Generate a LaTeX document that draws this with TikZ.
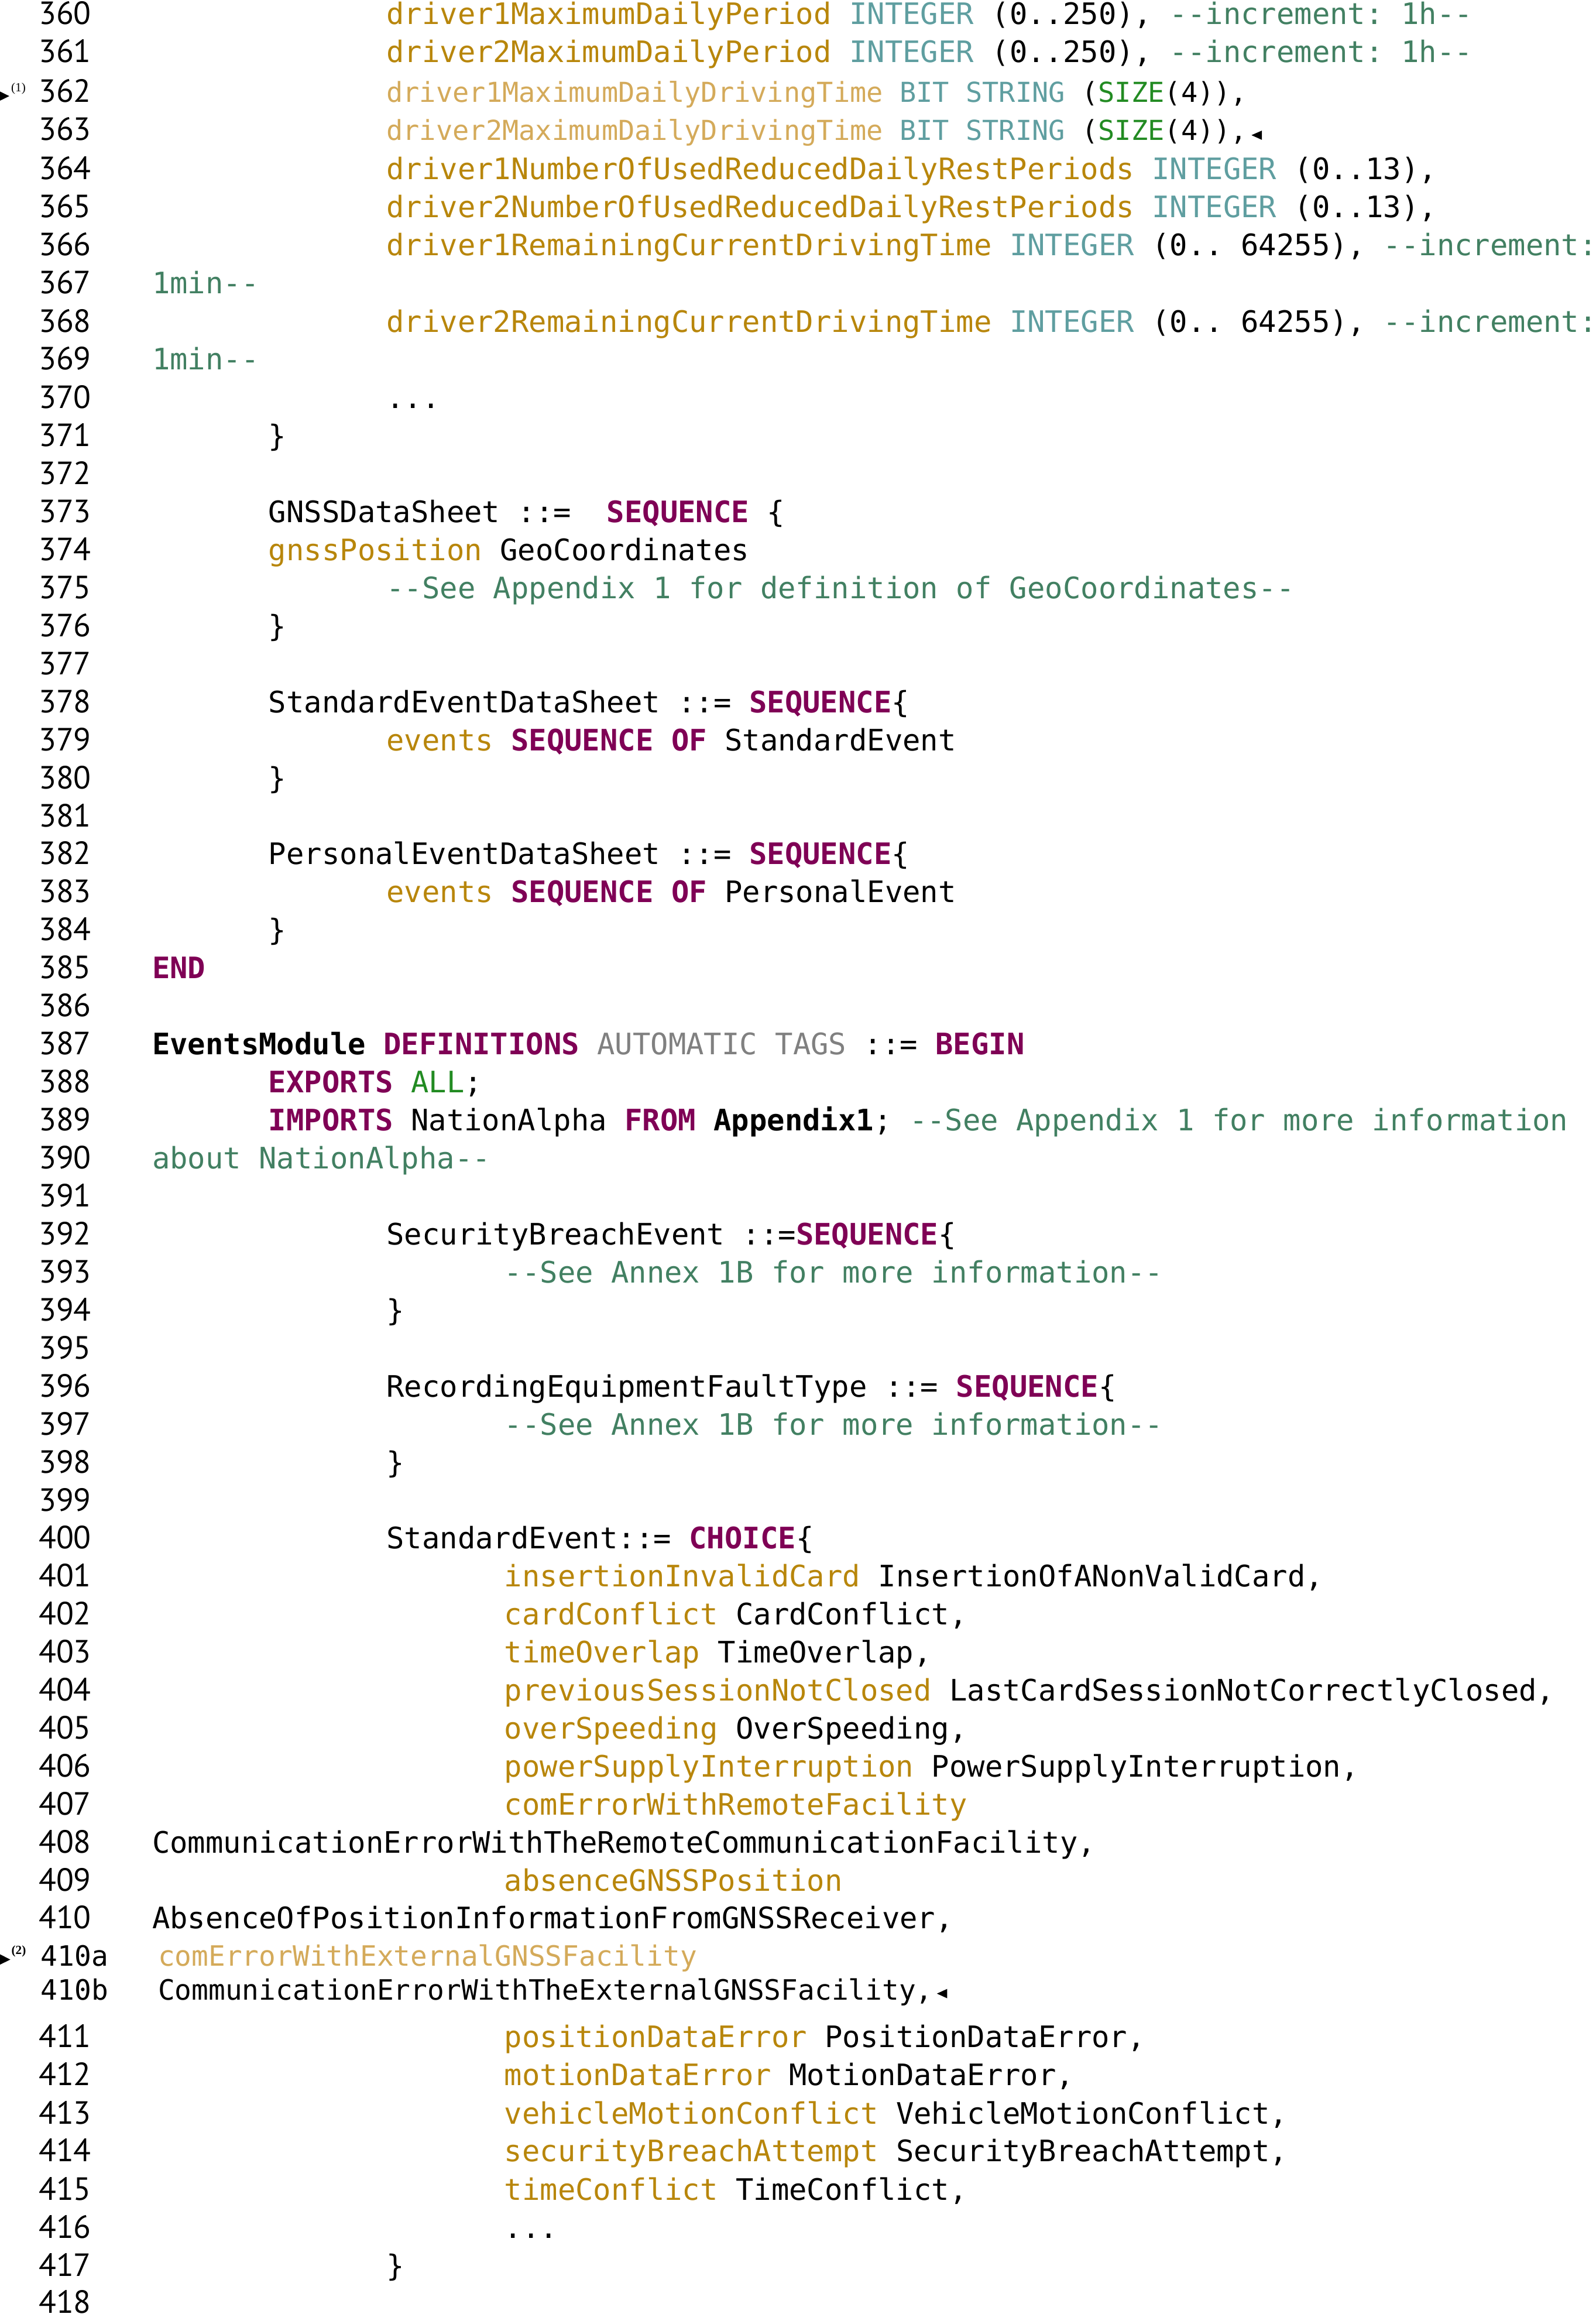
\documentclass[tikz,border=0pt]{standalone}
\usepackage{fontspec}
\setmonofont{DejaVu Sans Mono}
\newfontfamily\numfont{PT Sans}
\newfontfamily\notefont{Liberation Serif}
\frenchspacing

% colours of the listing
\definecolor{fieldgold}{RGB}{184,134,11}
\definecolor{fieldlight}{RGB}{212,170,90}
\definecolor{typeteal}{RGB}{95,158,160}
\definecolor{cmtgreen}{RGB}{66,128,98}
\definecolor{kwpurple}{RGB}{127,0,85}
\definecolor{sizegreen}{RGB}{34,139,34}
\definecolor{tagsgray}{RGB}{128,128,128}

% highlighting macros
\newcommand{\kw}[1]{\textcolor{kwpurple}{\bfseries #1}}
\newcommand{\fld}[1]{\textcolor{fieldgold}{#1}}
\newcommand{\fldl}[1]{\textcolor{fieldlight}{#1}}
\newcommand{\typ}[1]{\textcolor{typeteal}{#1}}
\newcommand{\cmt}[1]{\textcolor{cmtgreen}{#1}}
\newcommand{\szg}[1]{\textcolor{sizegreen}{#1}}

\begin{document}
\begin{tikzpicture}[
    % GLOBAL CFG
    x=0.025cm, y=-0.025cm,
    % Styles
    code/.style={% One line of the listing
        anchor=base west,
        inner sep=0pt,
        font=\ttfamily\fontsize{14.27pt}{17pt}\selectfont,
        },
    codeins/.style={% Changed lines, set a bit smaller
        code,
        font=\ttfamily\fontsize{13.27pt}{16pt}\selectfont,
        },
    codenew/.style={% Added lines 410a and 410b
        code,
        font=\ttfamily\fontsize{13.5pt}{16pt}\selectfont,
        },
    lnum/.style={% Line numbers in the margin
        anchor=base west,
        inner sep=0pt,
        font=\numfont\fontsize{15.5pt}{18pt}\selectfont,
        },
    note/.style={% Footnote marks next to the arrows
        anchor=base west,
        inner sep=0pt,
        font=\notefont\fontsize{6pt}{7pt}\selectfont,
        },
    ]

\useasboundingbox (0,0) rectangle (1083,1570);

    % Line numbers
    \node[lnum] (n360) at (26,16.5) {360};
    \node[lnum] (n361) at (26,42.4) {361};
    \node[lnum] (n362) at (26,69.5) {362};
    \node[lnum] (n363) at (26,95.3) {363};
    \node[lnum] (n364) at (26,121.8) {364};
    \node[lnum] (n365) at (26,147.6) {365};
    \node[lnum] (n366) at (26,173.5) {366};
    \node[lnum] (n367) at (26,199.3) {367};
    \node[lnum] (n368) at (26,225.2) {368};
    \node[lnum] (n369) at (26,251.0) {369};
    \node[lnum] (n370) at (26,276.9) {370};
    \node[lnum] (n371) at (26,302.7) {371};
    \node[lnum] (n372) at (26,328.6) {372};
    \node[lnum] (n373) at (26,354.6) {373};
    \node[lnum] (n374) at (26,380.4) {374};
    \node[lnum] (n375) at (26,406.2) {375};
    \node[lnum] (n376) at (26,431.9) {376};
    \node[lnum] (n377) at (26,457.7) {377};
    \node[lnum] (n378) at (26,483.5) {378};
    \node[lnum] (n379) at (26,509.3) {379};
    \node[lnum] (n380) at (26,535.1) {380};
    \node[lnum] (n381) at (26,560.8) {381};
    \node[lnum] (n382) at (26,586.6) {382};
    \node[lnum] (n383) at (26,612.4) {383};
    \node[lnum] (n384) at (26,638.2) {384};
    \node[lnum] (n385) at (26,664.0) {385};
    \node[lnum] (n386) at (26,689.7) {386};
    \node[lnum] (n387) at (26,715.5) {387};
    \node[lnum] (n388) at (26,741.3) {388};
    \node[lnum] (n389) at (26,767.1) {389};
    \node[lnum] (n390) at (26,793.0) {390};
    \node[lnum] (n391) at (26,818.8) {391};
    \node[lnum] (n392) at (26,844.6) {392};
    \node[lnum] (n393) at (26,870.4) {393};
    \node[lnum] (n394) at (26,896.2) {394};
    \node[lnum] (n395) at (26,921.9) {395};
    \node[lnum] (n396) at (26,947.7) {396};
    \node[lnum] (n397) at (26,973.5) {397};
    \node[lnum] (n398) at (26,999.3) {398};
    \node[lnum] (n399) at (26,1025.1) {399};
    \node[lnum] (n400) at (26,1050.8) {400};
    \node[lnum] (n401) at (26,1076.6) {401};
    \node[lnum] (n402) at (26,1102.4) {402};
    \node[lnum] (n403) at (26,1128.2) {403};
    \node[lnum] (n404) at (26,1154.0) {404};
    \node[lnum] (n405) at (26,1179.7) {405};
    \node[lnum] (n406) at (26,1205.5) {406};
    \node[lnum] (n407) at (26,1231.3) {407};
    \node[lnum] (n408) at (26,1257.1) {408};
    \node[lnum] (n409) at (26,1282.9) {409};
    \node[lnum] (n410) at (26,1308.6) {410};
    \node[codenew] (n410a) at (27.5,1333.7) {410a};
    \node[codenew] (n410b) at (27.5,1357.1) {410b};
    \node[lnum] (n411) at (26,1388.9) {411};
    \node[lnum] (n412) at (26,1414.9) {412};
    \node[lnum] (n413) at (26,1441.1) {413};
    \node[lnum] (n414) at (26,1466.6) {414};
    \node[lnum] (n415) at (26,1492.9) {415};
    \node[lnum] (n416) at (26,1518.5) {416};
    \node[lnum] (n417) at (26,1544.5) {417};
    \node[lnum] (n418) at (26,1569.2) {418};

    % Code lines
    \node[code] (l360) at (262,16.5) {\fld{driver1MaximumDailyPeriod} \typ{INTEGER} (0..250), \cmt{--increment: 1h--}};
    \node[code] (l361) at (262,42.4) {\fld{driver2MaximumDailyPeriod} \typ{INTEGER} (0..250), \cmt{--increment: 1h--}};
    \node[codeins] (l362) at (262,69.5) {\fldl{driver1MaximumDailyDrivingTime} \typ{BIT STRING} (\szg{SIZE}(4)),};
    \node[codeins] (l363) at (262,95.3) {\fldl{driver2MaximumDailyDrivingTime} \typ{BIT STRING} (\szg{SIZE}(4)),};
    \node[code] (l364) at (262,121.8) {\fld{driver1NumberOfUsedReducedDailyRestPeriods} \typ{INTEGER} (0..13),};
    \node[code] (l365) at (262,147.6) {\fld{driver2NumberOfUsedReducedDailyRestPeriods} \typ{INTEGER} (0..13),};
    \node[code] (l366) at (262,173.5) {\fld{driver1RemainingCurrentDrivingTime} \typ{INTEGER} (0.. 64255), \cmt{--increment:}};
    \node[code] (l367) at (103,199.3) {\cmt{1min--}};
    \node[code] (l368) at (262,225.2) {\fld{driver2RemainingCurrentDrivingTime} \typ{INTEGER} (0.. 64255), \cmt{--increment:}};
    \node[code] (l369) at (103,251.0) {\cmt{1min--}};
    \node[code] (l370) at (262,276.9) {...};
    \node[code] (l371) at (182,302.7) {\}};
    \node[code] (l373) at (182,354.6) {GNSSDataSheet ::=\ \ \kw{SEQUENCE} \{};
    \node[code] (l374) at (182,380.4) {\fld{gnssPosition} GeoCoordinates};
    \node[code] (l375) at (262,406.2) {\cmt{--See Appendix 1 for definition of GeoCoordinates--}};
    \node[code] (l376) at (182,431.9) {\}};
    \node[code] (l378) at (182,483.5) {StandardEventDataSheet ::= \kw{SEQUENCE}\{};
    \node[code] (l379) at (262,509.3) {\fld{events} \kw{SEQUENCE OF} StandardEvent};
    \node[code] (l380) at (182,535.1) {\}};
    \node[code] (l382) at (182,586.6) {PersonalEventDataSheet ::= \kw{SEQUENCE}\{};
    \node[code] (l383) at (262,612.4) {\fld{events} \kw{SEQUENCE OF} PersonalEvent};
    \node[code] (l384) at (182,638.2) {\}};
    \node[code] (l385) at (103,664.0) {\kw{END}};
    \node[code] (l387) at (103,715.5) {\textbf{EventsModule} \kw{DEFINITIONS} \textcolor{tagsgray}{AUTOMATIC TAGS} ::= \kw{BEGIN}};
    \node[code] (l388) at (182,741.3) {\kw{EXPORTS} \szg{ALL};};
    \node[code] (l389) at (182,767.1) {\kw{IMPORTS} NationAlpha \kw{FROM} \textbf{Appendix1}; \cmt{--See Appendix 1 for more information}};
    \node[code] (l390) at (103,793.0) {\cmt{about NationAlpha--}};
    \node[code] (l392) at (262,844.6) {SecurityBreachEvent ::=\kw{SEQUENCE}\{};
    \node[code] (l393) at (342,870.4) {\cmt{--See Annex 1B for more information--}};
    \node[code] (l394) at (262,896.2) {\}};
    \node[code] (l396) at (262,947.7) {RecordingEquipmentFaultType ::= \kw{SEQUENCE}\{};
    \node[code] (l397) at (342,973.5) {\cmt{--See Annex 1B for more information--}};
    \node[code] (l398) at (262,999.3) {\}};
    \node[code] (l400) at (262,1050.8) {StandardEvent::= \kw{CHOICE}\{};
    \node[code] (l401) at (342,1076.6) {\fld{insertionInvalidCard} InsertionOfANonValidCard,};
    \node[code] (l402) at (342,1102.4) {\fld{cardConflict} CardConflict,};
    \node[code] (l403) at (342,1128.2) {\fld{timeOverlap} TimeOverlap,};
    \node[code] (l404) at (342,1154.0) {\fld{previousSessionNotClosed} LastCardSessionNotCorrectlyClosed,};
    \node[code] (l405) at (342,1179.7) {\fld{overSpeeding} OverSpeeding,};
    \node[code] (l406) at (342,1205.5) {\fld{powerSupplyInterruption} PowerSupplyInterruption,};
    \node[code] (l407) at (342,1231.3) {\fld{comErrorWithRemoteFacility}};
    \node[code] (l408) at (103,1257.1) {CommunicationErrorWithTheRemoteCommunicationFacility,};
    \node[code] (l409) at (342,1282.9) {\fld{absenceGNSSPosition}};
    \node[code] (l410) at (103,1308.6) {AbsenceOfPositionInformationFromGNSSReceiver,};
    \node[codenew] (l410a) at (107,1333.7) {\fldl{comErrorWithExternalGNSSFacility}};
    \node[codenew] (l410b) at (107,1357.1) {CommunicationErrorWithTheExternalGNSSFacility,};
    \node[code] (l411) at (342,1388.9) {\fld{positionDataError} PositionDataError,};
    \node[code] (l412) at (342,1414.9) {\fld{motionDataError} MotionDataError,};
    \node[code] (l413) at (342,1441.1) {\fld{vehicleMotionConflict} VehicleMotionConflict,};
    \node[code] (l414) at (342,1466.6) {\fld{securityBreachAttempt} SecurityBreachAttempt,};
    \node[code] (l415) at (342,1492.9) {\fld{timeConflict} TimeConflict,};
    \node[code] (l416) at (342,1518.5) {...};
    \node[code] (l417) at (262,1544.5) {\}};

    % Change marks: arrows at the margin, with their notes
    \fill (-1,61.6) -- (6.3,65.2) -- (-1,68.8) -- cycle;
    \node[note] (m1) at (7.3,62) {(1)};
    \fill (-0.5,1325.7) -- (7,1329.5) -- (-0.5,1333.2) -- cycle;
    \node[note, font=\notefont\bfseries\fontsize{6pt}{7pt}\selectfont] (m2) at (7.5,1326) {(2)};

    % End marks after the changed lines
    \fill ([shift={(2.5,-3.6)}]l363.base east) -- ++(7.1,-3.1) -- ++(0,6.3) -- cycle;
    \fill ([shift={(2.5,-4.5)}]l410b.base east) -- ++(7,-3.2) -- ++(0,6.4) -- cycle;

\end{tikzpicture}
\end{document}
